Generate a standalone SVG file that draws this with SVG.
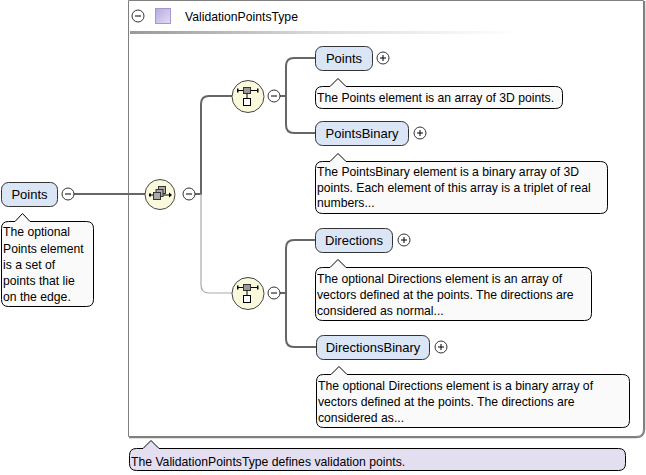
<svg xmlns="http://www.w3.org/2000/svg" width="646" height="475" viewBox="0 0 646 475">
<defs>
<style>
text{font-family:"Liberation Sans",Arial,sans-serif;font-size:12.2px;fill:#000}
text.n{font-size:13px}
.el{fill:#dae5f6;stroke:#333;stroke-width:1}
.doc{fill:#fafafa;stroke:#000;stroke-width:1}
.tdoc{fill:#e4dff0;stroke:#000;stroke-width:1}
.pm{fill:#fff;stroke:#333;stroke-width:1}
.pmline{stroke:#000;stroke-width:1}
.ico{fill:#fbf9dc;stroke:#444;stroke-width:1}
.c{fill:none;stroke:#666;stroke-width:2}
.cl{fill:none;stroke:#aaa;stroke-width:1.2}
</style>
<linearGradient id="hg" x1="0" y1="0" x2="1" y2="0">
<stop offset="0" stop-color="#999"/>
<stop offset="0.5" stop-color="#ddd"/>
<stop offset="1" stop-color="#fff"/>
</linearGradient>
<linearGradient id="pg" x1="0" y1="0" x2="1" y2="1">
<stop offset="0" stop-color="#b8a8e0"/>
<stop offset="1" stop-color="#e4ddf5"/>
</linearGradient>
</defs>

<g id="container">
<path d="M128.5,0.5 H643.5 V429 Q643.5,436.5 636,436.5 H128.5 Z" fill="#fff" stroke="#808080" stroke-width="1"/>
<path d="M644.5,1 V429 Q644.5,437.5 636,437.5 H129" fill="none" stroke="#808080" stroke-width="1.5"/>
<circle class="pm" cx="138" cy="16" r="6"/>
<line class="pmline" x1="135" y1="16" x2="141" y2="16"/>
<rect x="155.5" y="8.5" width="15" height="15" fill="url(#pg)" stroke="#a596d0"/>
<text x="185" y="21">ValidationPointsType</text>
<rect x="130" y="31" width="390" height="3" fill="url(#hg)"/>
</g>

<g id="connectors">
<line class="c" x1="74" y1="194" x2="145" y2="194"/>
<path class="c" d="M195,194 H201 V104 Q201,96 209,96 H232"/>
<path class="cl" d="M201,194 V285 Q201,293 209,293 H232"/>
<path class="c" d="M280,96 H286 V66 Q286,58 294,58 H315"/>
<path class="c" d="M286,96 V125 Q286,133 294,133 H315"/>
<path class="c" d="M280,293 H286 V248 Q286,240 294,240 H315"/>
<path class="c" d="M286,293 V339 Q286,347 294,347 H316"/>
</g>

<g id="node-points-root">
<rect class="el" x="1.5" y="182.5" width="56" height="24" rx="7"/>
<text class="n" x="29.5" y="198.5" text-anchor="middle">Points</text>
<circle class="pm" cx="68" cy="194" r="6"/>
<line class="pmline" x1="65" y1="194" x2="71" y2="194"/>
<path class="doc" d="M8.5,221.5 H15 L22.5,213.5 L30,221.5 H86.5 Q93.5,221.5 93.5,228.5 V299.5 Q93.5,306.5 86.5,306.5 H8.5 Q1.5,306.5 1.5,299.5 V228.5 Q1.5,221.5 8.5,221.5 Z"/>
<text x="3" y="236">The optional</text>
<text x="3" y="252.5">Points element</text>
<text x="3" y="268.5">is a set of</text>
<text x="3" y="285">points that lie</text>
<text x="3" y="301">on the edge.</text>
</g>

<g id="node-choice">
<circle class="ico" cx="160" cy="194.5" r="15"/>
<line x1="150" y1="195" x2="171" y2="195" stroke="#000" stroke-width="1"/>
<rect x="149" y="193.5" width="2" height="3" fill="#000"/>
<path d="M169,192.5 L172,195 L169,197.5 Z" fill="#000"/>
<rect x="158.5" y="186.5" width="7" height="7" fill="#aaa" stroke="#333"/>
<rect x="156" y="189.5" width="7" height="7" fill="#aaa" stroke="#333"/>
<rect x="153.5" y="192.5" width="7" height="7" fill="#aaa" stroke="#333"/>
<circle class="pm" cx="189" cy="194" r="6"/>
<line class="pmline" x1="186" y1="194" x2="192" y2="194"/>
</g>

<g id="node-seq1">
<circle class="ico" cx="248" cy="96.5" r="16"/>
<line x1="238" y1="90.5" x2="258" y2="90.5" stroke="#000"/>
<rect x="237" y="88.5" width="1.5" height="4" fill="#000"/>
<rect x="257" y="88.5" width="1.5" height="4" fill="#000"/>
<rect x="243.5" y="87.5" width="7" height="6" fill="#999" stroke="#333"/>
<line x1="247" y1="93.5" x2="247" y2="98" stroke="#000"/>
<rect x="243.5" y="98.5" width="7" height="7" fill="#fff" stroke="#000"/>
<circle class="pm" cx="274" cy="96" r="6"/>
<line class="pmline" x1="271" y1="96" x2="277" y2="96"/>
</g>

<g id="node-seq2">
<circle class="ico" cx="248" cy="293.5" r="16"/>
<line x1="238" y1="287.5" x2="258" y2="287.5" stroke="#000"/>
<rect x="237" y="285.5" width="1.5" height="4" fill="#000"/>
<rect x="257" y="285.5" width="1.5" height="4" fill="#000"/>
<rect x="243.5" y="284.5" width="7" height="6" fill="#999" stroke="#333"/>
<line x1="247" y1="290.5" x2="247" y2="295" stroke="#000"/>
<rect x="243.5" y="295.5" width="7" height="7" fill="#fff" stroke="#000"/>
<circle class="pm" cx="274" cy="293" r="6"/>
<line class="pmline" x1="271" y1="293" x2="277" y2="293"/>
</g>

<g id="node-points">
<rect class="el" x="315.5" y="46.5" width="57" height="24" rx="7"/>
<text class="n" x="344" y="62.5" text-anchor="middle">Points</text>
<circle class="pm" cx="383" cy="58" r="6"/>
<line class="pmline" x1="380" y1="58" x2="386" y2="58"/>
<line class="pmline" x1="383" y1="55" x2="383" y2="61"/>
<path class="doc" d="M322.5,86.5 H330 L338,78.5 L346,86.5 H555.5 Q562.5,86.5 562.5,93.5 V101.5 Q562.5,108.5 555.5,108.5 H322.5 Q315.5,108.5 315.5,101.5 V93.5 Q315.5,86.5 322.5,86.5 Z"/>
<text x="317" y="101.5">The Points element is an array of 3D points.</text>
</g>

<g id="node-pointsbinary">
<rect class="el" x="315.5" y="121.5" width="93" height="24" rx="7"/>
<text class="n" x="362" y="137.5" text-anchor="middle">PointsBinary</text>
<circle class="pm" cx="420" cy="133" r="6"/>
<line class="pmline" x1="417" y1="133" x2="423" y2="133"/>
<line class="pmline" x1="420" y1="130" x2="420" y2="136"/>
<path class="doc" d="M322.5,161.5 H330 L338,153.5 L346,161.5 H600.5 Q607.5,161.5 607.5,168.5 V206.5 Q607.5,213.5 600.5,213.5 H322.5 Q315.5,213.5 315.5,206.5 V168.5 Q315.5,161.5 322.5,161.5 Z"/>
<text x="317" y="176">The PointsBinary element is a binary array of 3D</text>
<text x="317" y="191.5">points. Each element of this array is a triplet of real</text>
<text x="317" y="207">numbers...</text>
</g>

<g id="node-directions">
<rect class="el" x="315.5" y="228.5" width="77" height="24" rx="7"/>
<text class="n" x="354" y="244.5" text-anchor="middle">Directions</text>
<circle class="pm" cx="404" cy="240" r="6"/>
<line class="pmline" x1="401" y1="240" x2="407" y2="240"/>
<line class="pmline" x1="404" y1="237" x2="404" y2="243"/>
<path class="doc" d="M322.5,267.5 H330 L338,259.5 L346,267.5 H584.5 Q591.5,267.5 591.5,274.5 V313.5 Q591.5,320.5 584.5,320.5 H322.5 Q315.5,320.5 315.5,313.5 V274.5 Q315.5,267.5 322.5,267.5 Z"/>
<text x="317" y="282.5">The optional Directions element is an array of</text>
<text x="317" y="299">vectors defined at the points. The directions are</text>
<text x="317" y="315">considered as normal...</text>
</g>

<g id="node-directionsbinary">
<rect class="el" x="316.5" y="335.5" width="113" height="24" rx="7"/>
<text class="n" x="373" y="351.5" text-anchor="middle">DirectionsBinary</text>
<circle class="pm" cx="441" cy="347" r="6"/>
<line class="pmline" x1="438" y1="347" x2="444" y2="347"/>
<line class="pmline" x1="441" y1="344" x2="441" y2="350"/>
<path class="doc" d="M323.5,374.5 H331 L339,366.5 L347,374.5 H622.5 Q629.5,374.5 629.5,381.5 V420.5 Q629.5,427.5 622.5,427.5 H323.5 Q316.5,427.5 316.5,420.5 V381.5 Q316.5,374.5 323.5,374.5 Z"/>
<text x="318" y="390">The optional Directions element is a binary array of</text>
<text x="318" y="406">vectors defined at the points. The directions are</text>
<text x="318" y="421.5">considered as...</text>
</g>

<g id="type-doc">
<path class="tdoc" d="M136.5,448.5 H143 L151,440.5 L159,448.5 H618.5 Q625.5,448.5 625.5,455.5 V463.5 Q625.5,470.5 618.5,470.5 H136.5 Q129.5,470.5 129.5,463.5 V455.5 Q129.5,448.5 136.5,448.5 Z"/>
<text x="131" y="465.5">The ValidationPointsType defines validation points.</text>
</g>
</svg>
